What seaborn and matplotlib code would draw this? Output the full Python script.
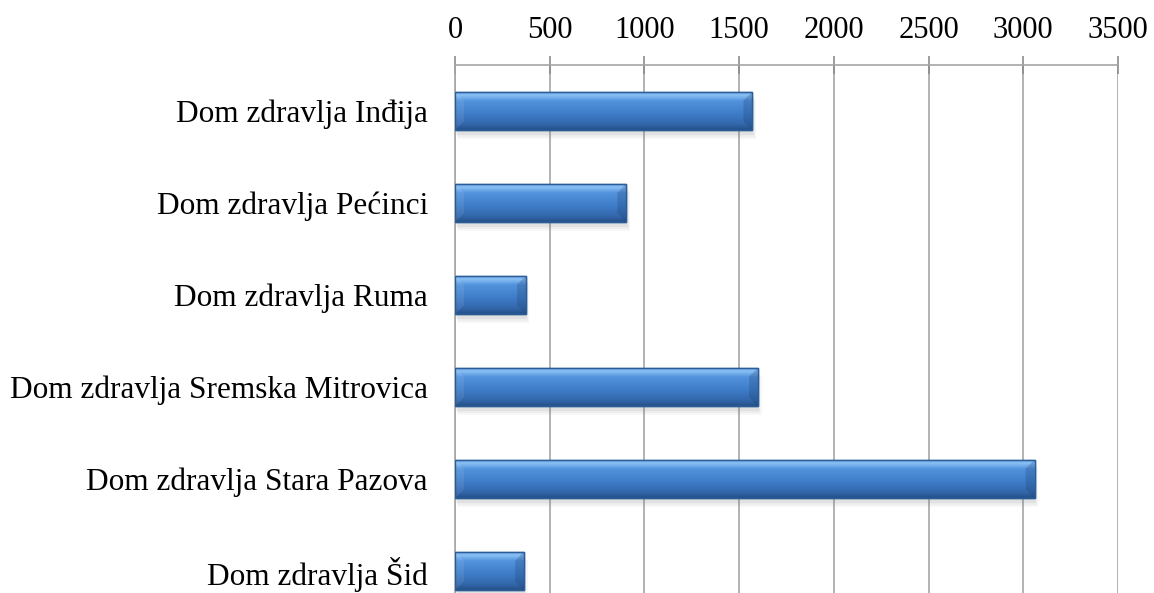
import numpy as np
import pandas as pd
import matplotlib
matplotlib.use("Agg")
import matplotlib.pyplot as plt
import seaborn as sns
from matplotlib.colors import LinearSegmentedColormap
from matplotlib.patches import Rectangle, Polygon
from matplotlib.ticker import FixedLocator

categories = ["Dom zdravlja Inđija", "Dom zdravlja Pećinci", "Dom zdravlja Ruma",
              "Dom zdravlja Sremska Mitrovica", "Dom zdravlja Stara Pazova",
              "Dom zdravlja Šid"]
values = [1570, 905, 375, 1600, 3060, 365]
x_ticks = [0, 500, 1000, 1500, 2000, 2500, 3000, 3500]

df = pd.DataFrame({"ustanova": categories, "broj": values})

sns.set_style("white")
plt.rcParams["font.family"] = ["Liberation Serif", "DejaVu Serif"]

fig = plt.figure(figsize=(11.54, 5.93), dpi=100)
ax = fig.add_axes([0.3943, -0.0405, 0.5745, 0.931])

sns.barplot(data=df, y="ustanova", x="broj", orient="h", width=0.42,
            color="#3d7cc9", edgecolor="#2b5d99", linewidth=1.0, ax=ax, zorder=3)

ax.set_xlim(0, 3500)
ax.set_ylim(5.5, -0.5)

# cylinder-like shading + bevelled ends
shade = LinearSegmentedColormap.from_list(
    "bar", [(0.0, "#5e9ae0"), (0.1, "#8ac0f5"), (0.25, "#5292dc"),
            (0.6, "#3e7bc7"), (0.85, "#3368ab"), (1.0, "#26518a")])
grad = np.linspace(0, 1, 100).reshape(-1, 1)
dx = 9 * 3500 / 663   # ~9 px bevel in data units
dy = 9 / 92
for p in list(ax.patches):
    x0, y0, w, h = p.get_x(), p.get_y(), p.get_width(), p.get_height()
    x1 = x0 + w
    for k, a in enumerate([0.10, 0.08, 0.06]):
        ax.add_patch(Rectangle((x0 + 6 + 6 * k, y0 + 0.05 + 0.02 * k), w, h,
                               facecolor="#7f7f7f", edgecolor="none",
                               alpha=a, zorder=2))
    im = ax.imshow(grad, cmap=shade, aspect="auto", zorder=3.5,
                   extent=[x0, x1, y0 + h, y0], interpolation="bilinear")
    im.set_clip_path(p)
    ax.add_patch(Polygon([(x0, y0), (x0 + dx, y0 + dy), (x0 + dx, y0 + h - dy),
                          (x0, y0 + h)], closed=True, facecolor="white",
                         edgecolor="none", alpha=0.08, zorder=3.6))
    ax.add_patch(Polygon([(x1, y0), (x1 - dx, y0 + dy), (x1 - dx, y0 + h - dy),
                          (x1, y0 + h)], closed=True, facecolor="#1c3f6e",
                         edgecolor="none", alpha=0.25, zorder=3.6))
    ax.add_patch(Rectangle((x0, y0), w, h, facecolor="none",
                           edgecolor="#2b5d99", linewidth=1.0, zorder=3.7))

ax.set_xticks(x_ticks)
ax.set_xlabel("")
ax.set_ylabel("")

ax.set_axisbelow(True)
ax.xaxis.grid(True, color="#a6a6a6", linewidth=1.2)
ax.yaxis.grid(False)
for side in ["right", "bottom"]:
    ax.spines[side].set_visible(False)
for side in ["top", "left"]:
    ax.spines[side].set_color("#a6a6a6")
    ax.spines[side].set_linewidth(1.2)

ax.xaxis.tick_top()
ax.tick_params(axis="x", direction="inout", length=13, width=1.2,
               color="#8c8c8c", pad=8, labelsize=22, labelcolor="black")
ax.yaxis.set_minor_locator(FixedLocator([-0.5, 0.5, 1.5, 2.5, 3.5, 4.5]))
ax.tick_params(axis="y", which="major", length=0, pad=19.5, labelsize=22.5,
               labelcolor="black")
ax.tick_params(axis="y", which="minor", length=7.5, width=1.2,
               color="#a6a6a6", direction="out")

fig.savefig("out.png", dpi=100)
